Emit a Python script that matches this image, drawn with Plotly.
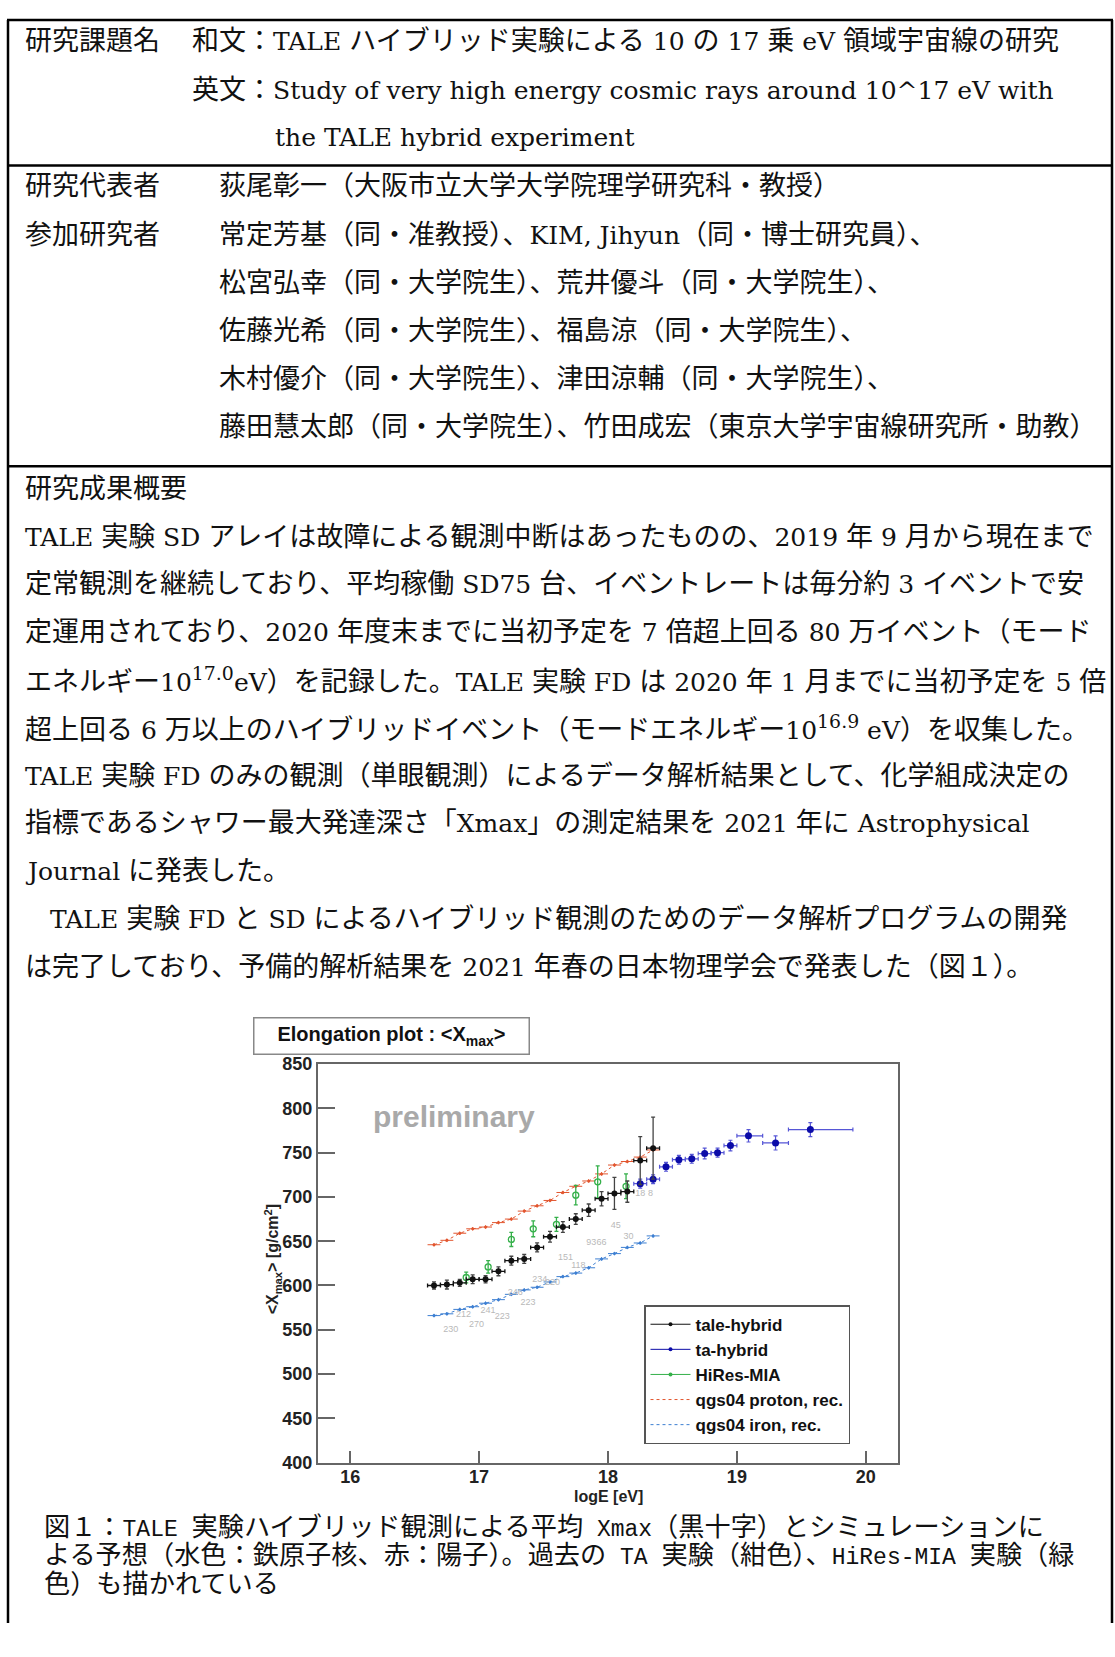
import re
import plotly.graph_objects as go

W, H = 1115, 1657

# ---- elongation plot data: <Xmax> [g/cm^2] vs logE [eV] ----
tale_loge = [16.65, 16.75, 16.85, 16.95, 17.05, 17.15, 17.25, 17.35, 17.45,
             17.55, 17.65, 17.75, 17.85, 17.95, 18.05, 18.15, 18.25, 18.35]
tale_xmax = [600, 601, 603, 607, 607, 616, 628, 630, 643,
             655, 666, 675, 685, 698, 704, 706, 741, 755]
tale_err = [4, 5, 4, 5, 4, 5, 5, 5, 5, 6, 6, 6, 7, 8, 18, 12, 27, 35]

ta_loge = [18.25, 18.35, 18.45, 18.55, 18.65, 18.75, 18.85, 18.95, 19.09, 19.30, 19.57]
ta_xmax = [715, 720, 734, 742, 743, 749, 750, 758, 769, 761, 776]
ta_err = [5, 5, 5, 5, 5, 6, 5, 6, 7, 8, 8]
ta_bin_lo = [0.05, 0.05, 0.05, 0.05, 0.05, 0.05, 0.05, 0.05, 0.09, 0.10, 0.17]
ta_bin_hi = [0.05, 0.05, 0.05, 0.05, 0.05, 0.05, 0.05, 0.05, 0.11, 0.10, 0.33]

hires_loge = [16.90, 17.07, 17.25, 17.42, 17.60, 17.75, 17.92, 18.14]
hires_xmax = [609, 621, 652, 664, 669, 702, 717, 712]
hires_err = [6, 7, 8, 9, 8, 11, 18, 14]

sim_loge = tale_loge
proton_xmax = [646, 651, 659, 664, 666, 671, 675, 684, 690,
               696, 705, 712, 718, 726, 736, 740, 745, 753]
iron_xmax = [566, 568, 573, 576, 580, 584, 590, 595, 598,
             604, 610, 614, 620, 630, 636, 643, 648, 656]

# number of events per energy bin
count_text = ["230", "270", "212", "241", "223", "246", "223", "234", "220",
              "151", "118", "93", "66", "45", "30", "18", "8"]
count_loge = [16.78, 16.98, 16.88, 17.07, 17.18, 17.28, 17.38, 17.47, 17.57,
              17.67, 17.77, 17.87, 17.95, 18.06, 18.16, 18.25, 18.33]
count_xmax = [550, 556, 567, 571, 565, 592, 580, 607, 603,
              631, 622, 648, 648, 667, 655, 704, 704]

x_ticks = [16, 17, 18, 19, 20]
y_ticks = [400, 450, 500, 550, 600, 650, 700, 750, 800, 850]

# ---- colours ----
C_TALE = "#111111"
C_TA = "#0c0ca8"
C_TA_BAR = "#5656d6"
C_HIRES = "#35b04a"
C_PROTON = "#e2552e"
C_IRON = "#3d7fd2"
C_COUNT = "#b9b9b9"

SANS = "Liberation Sans, Arial, sans-serif"
BODY = "DejaVu Serif, Noto Sans CJK JP, serif"
CAPT = "Liberation Mono, Noto Sans CJK JP, monospace"


def fx(px):
    return px / W


def fy(py):
    # page pixel row -> paper fraction (small vertical compensation of the page)
    return 1 - ((py - 5) / 0.9916) / H


def latin_runs(s, px):
    """Set runs of Latin characters (outside <sup>) at their own font size."""
    out, in_sup = [], False
    for part in re.split(r"(<[^>]+>)", s):
        if part.startswith("<"):
            in_sup = part == "<sup>" or (in_sup and part != "</sup>")
            out.append(part)
        elif in_sup:
            out.append(part)
        else:
            out.append(re.sub(r"[\x20-\x7e]+",
                              lambda m: f'<span style="font-size:{px}px">{m.group(0)}</span>',
                              part))
    return "".join(out)


fig = go.Figure()

# simulation expectations
fig.add_trace(go.Scatter(
    x=sim_loge, y=proton_xmax, mode="lines+markers", showlegend=False,
    line=dict(color=C_PROTON, width=1, dash="dot"),
    marker=dict(color=C_PROTON, size=3),
    error_x=dict(type="constant", value=0.05, color=C_PROTON, thickness=1, width=0),
    error_y=dict(type="constant", value=2, color=C_PROTON, thickness=1, width=0),
))
fig.add_trace(go.Scatter(
    x=sim_loge, y=iron_xmax, mode="lines+markers", showlegend=False,
    line=dict(color=C_IRON, width=1, dash="dot"),
    marker=dict(color=C_IRON, size=3),
    error_x=dict(type="constant", value=0.05, color=C_IRON, thickness=1, width=0),
    error_y=dict(type="constant", value=2, color=C_IRON, thickness=1, width=0),
))

# HiRes-MIA
fig.add_trace(go.Scatter(
    x=hires_loge, y=hires_xmax, mode="markers", showlegend=False,
    marker=dict(symbol="circle-open", color=C_HIRES, size=6, line=dict(width=1.3)),
    error_y=dict(type="data", array=hires_err, color=C_HIRES, thickness=1.3, width=2),
))

# TA hybrid
fig.add_trace(go.Scatter(
    x=ta_loge, y=ta_xmax, mode="markers", showlegend=False,
    marker=dict(color=C_TA, size=7),
    error_x=dict(type="data", array=ta_bin_hi, arrayminus=ta_bin_lo, symmetric=False,
                 color=C_TA_BAR, thickness=1.2, width=2),
    error_y=dict(type="data", array=ta_err, color=C_TA_BAR, thickness=1.2, width=2),
))

# TALE hybrid
fig.add_trace(go.Scatter(
    x=tale_loge, y=tale_xmax, mode="markers", showlegend=False,
    marker=dict(color=C_TALE, size=6),
    error_x=dict(type="constant", value=0.05, color=C_TALE, thickness=1.3, width=2),
    error_y=dict(type="data", array=tale_err, color="#444444", thickness=1.3, width=2),
))

# event counts
fig.add_trace(go.Scatter(
    x=count_loge, y=count_xmax, mode="text", text=count_text, showlegend=False,
    textfont=dict(family=SANS, size=9, color=C_COUNT),
))

# legend entries
for name, col, mode, dash in [
    ("tale-hybrid", C_TALE, "lines+markers", "solid"),
    ("ta-hybrid", C_TA, "lines+markers", "solid"),
    ("HiRes-MIA", C_HIRES, "lines+markers", "solid"),
    ("qgs04 proton, rec.", C_PROTON, "lines", "dot"),
    ("qgs04 iron, rec.", C_IRON, "lines", "dot"),
]:
    fig.add_trace(go.Scatter(
        x=[None], y=[None], mode=mode, name=name,
        line=dict(color=col, width=1, dash=dash),
        marker=dict(color=col, size=4),
    ))

axis_common = dict(
    showgrid=False, zeroline=False, showline=True, linecolor="#666666", linewidth=2,
    mirror=True, ticks="inside", tickcolor="#666666", tickwidth=1.5,
    tickfont=dict(family=SANS, size=18, color="#222222", weight="bold"),
)
fig.update_xaxes(domain=[fx(318), fx(898)], range=[15.75, 20.25],
                 tickvals=x_ticks, ticklen=12, ticklabelstandoff=-3, **axis_common)
fig.update_yaxes(domain=[fy(1463), fy(1063)], range=[400, 850],
                 tickvals=y_ticks, ticklen=17, **axis_common)

ann = []


def text(s, x, y, size=27, family=BODY, color="#111111", **kw):
    d = dict(text=s, x=fx(x), y=fy(y), xref="paper", yref="paper",
             xanchor="left", yanchor="middle", showarrow=False,
             font=dict(family=family, size=size, color=color))
    d.update(kw)
    ann.append(d)


def para(s, x, y):
    text(latin_runs(s, 25), x, y)


# chart labels
text("Elongation plot : &lt;X<sub>max</sub>&gt;", 253, 1035, size=20, family=SANS,
     color="#111111", width=270, height=31, align="center",
     bordercolor="#888888", borderwidth=1.5, borderpad=2, bgcolor="white")
ann[-1]["font"]["weight"] = "bold"
text("preliminary", 454, 1116, size=30, family=SANS, color="#a9a9a9", xanchor="center")
ann[-1]["font"]["weight"] = "bold"
text("logE [eV]", 608, 1497, size=16, family=SANS, color="#222222", xanchor="center")
ann[-1]["font"]["weight"] = "bold"
text("&lt;X<sub>max</sub>&gt; [g/cm<sup>2</sup>]", 273, 1259, size=16, family=SANS,
     color="#222222", xanchor="center", textangle=-90)
ann[-1]["font"]["weight"] = "bold"

# header block
para("研究課題名", 23, 36)
para("和文：TALE ハイブリッド実験による 10 の 17 乗 eV 領域宇宙線の研究", 190, 36)
para("英文：Study of very high energy cosmic rays around 10^17 eV with", 190, 85)
para("the TALE hybrid experiment", 273, 133)

para("研究代表者", 23, 181)
para("荻尾彰一（大阪市立大学大学院理学研究科・教授）", 217, 181)
para("参加研究者", 23, 230)
members = [
    "常定芳基（同・准教授）、KIM, Jihyun（同・博士研究員）、",
    "松宮弘幸（同・大学院生）、荒井優斗（同・大学院生）、",
    "佐藤光希（同・大学院生）、福島涼（同・大学院生）、",
    "木村優介（同・大学院生）、津田涼輔（同・大学院生）、",
    "藤田慧太郎（同・大学院生）、竹田成宏（東京大学宇宙線研究所・助教）",
]
for i, m in enumerate(members):
    para(m, 217, 230 + i * 48.2)

para("研究成果概要", 23, 485)
body = [
    (23, "TALE 実験 SD アレイは故障による観測中断はあったものの、2019 年 9 月から現在まで"),
    (23, "定常観測を継続しており、平均稼働 SD75 台、イベントレートは毎分約 3 イベントで安"),
    (23, "定運用されており、2020 年度末までに当初予定を 7 倍超上回る 80 万イベント（モード"),
    (23, "エネルギー10<sup>17.0</sup>eV）を記録した。TALE 実験 FD は 2020 年 1 月までに当初予定を 5 倍"),
    (23, "超上回る 6 万以上のハイブリッドイベント（モードエネルギー10<sup>16.9</sup> eV）を収集した。"),
    (23, "TALE 実験 FD のみの観測（単眼観測）によるデータ解析結果として、化学組成決定の"),
    (23, "指標であるシャワー最大発達深さ「Xmax」の測定結果を 2021 年に Astrophysical"),
    (23, "Journal に発表した。"),
    (48, "TALE 実験 FD と SD によるハイブリッド観測のためのデータ解析プログラムの開発"),
    (23, "は完了しており、予備的解析結果を 2021 年春の日本物理学会で発表した（図１）。"),
]
for i, (x0, s) in enumerate(body):
    para(s, x0, 533 + i * 48.0)

caption = [
    "図１：TALE 実験ハイブリッド観測による平均 Xmax（黒十字）とシミュレーションに",
    "よる予想（水色：鉄原子核、赤：陽子）。過去の TA 実験（紺色）、HiRes-MIA 実験（緑",
    "色）も描かれている",
]
for i, s in enumerate(caption):
    text(latin_runs(s, 23), 42, 1529 + i * 28.5, size=26.2, family=CAPT)

# table rules
shapes = []


def rule(x0, y0, x1, y1):
    shapes.append(dict(type="line", xref="paper", yref="paper",
                       x0=fx(x0), y0=fy(y0), x1=fx(x1), y1=fy(y1),
                       line=dict(color="black", width=2.5)))


rule(7, 15, 1113, 15)
rule(7, 161, 1113, 161)
rule(7, 463, 1113, 463)
rule(8, 15, 8, 1624)
rule(1112, 15, 1112, 1624)

fig.update_layout(
    width=W, height=H, margin=dict(l=0, r=0, t=0, b=0),
    paper_bgcolor="white", plot_bgcolor="white",
    annotations=ann, shapes=shapes,
    legend=dict(x=fx(644), y=fy(1305), xanchor="left", yanchor="top",
                bordercolor="#555555", borderwidth=1.5, bgcolor="white",
                font=dict(family=SANS, size=17, color="#111111", weight="bold"),
                itemwidth=40, tracegroupgap=0),
)

fig.write_html("out.html")
